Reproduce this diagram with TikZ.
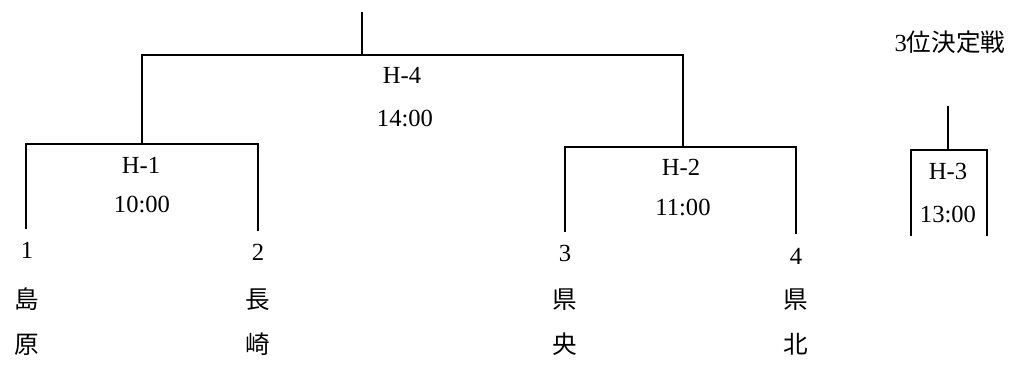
\documentclass[tikz,border=0pt]{standalone}
\usepackage{fontspec}
\setmainfont{Liberation Serif}
\newfontfamily\jp{Noto Sans CJK JP}
\usepackage{tikz}

\begin{document}
\begin{tikzpicture}
[
x=0.02cm, y=-0.02cm,
bar/.style={draw=black, line width=1.6pt},
num/.style={font=\fontsize{14}{16}\selectfont},
match/.style={font=\fontsize{14}{16}\selectfont, align=center},
team/.style={font=\jp\fontsize{14}{25.6}\selectfont, align=center}
]
\useasboundingbox (0,0) rectangle (1019,370);

%Nodes
\node[num]      (n1)    at (27,250)     {1};
\node[num]      (n2)    at (258,252)    {2};
\node[num]      (n3)    at (565,253)    {3};
\node[num]      (n4)    at (796,256)    {4};
\node[team]     (t1)    at (27,322)     {島\\原};
\node[team]     (t2)    at (258,322)    {長\\崎};
\node[team]     (t3)    at (565,322)    {県\\央};
\node[team]     (t4)    at (796,322)    {県\\北};
\node[match]    (m1)    at (141,165)    {H-1};
\node[match]    (m1t)   at (142,204)    {10:00};
\node[match]    (m2)    at (681,167)    {H-2};
\node[match]    (m2t)   at (683,207)    {11:00};
\node[match]    (m3)    at (948,171)    {H-3};
\node[match]    (m3t)   at (948,214)    {13:00};
\node[match]    (m4)    at (402,75)     {H-4};
\node[match]    (m4t)   at (405,118)    {14:00};
\node[match]    (third) at (950,42)     {3\jp 位決定戦};

%Bracket points
\coordinate (b1) at (26,229);
\coordinate (b2) at (258,231);
\coordinate (b3) at (565,232);
\coordinate (b4) at (796,234);
\coordinate (j1) at (142,144);
\coordinate (j2) at (683,147);
\coordinate (j4) at (362,55);
\coordinate (top) at (362,12);
\coordinate (c3l) at (911,236);
\coordinate (c3r) at (987,236);
\coordinate (j3) at (948,150);
\coordinate (top3) at (948,106);

%Lines
\draw[bar] (b1) |- (j1) -| (b2);
\draw[bar] (b3) |- (j2) -| (b4);
\draw[bar] (j1) |- (j4) -| (j2);
\draw[bar] (j4) -- (top);
\draw[bar] (c3l) |- (j3) -| (c3r);
\draw[bar] (j3) -- (top3);
\end{tikzpicture}
\end{document}
